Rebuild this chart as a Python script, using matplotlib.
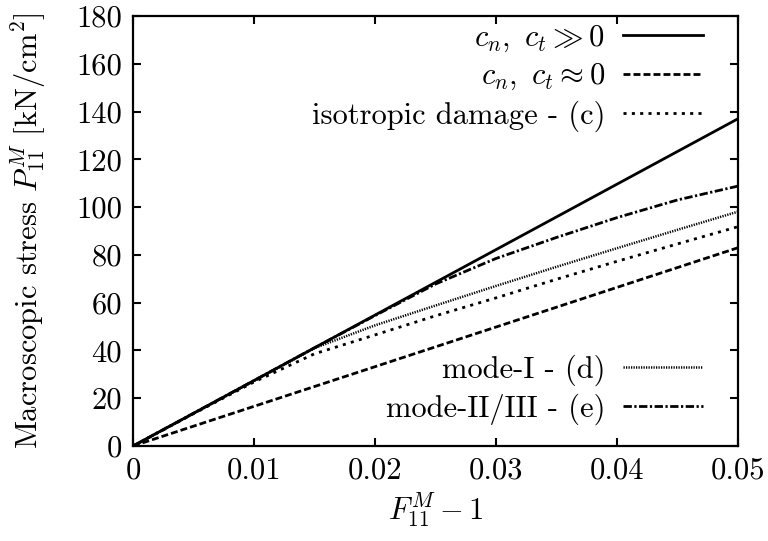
import matplotlib
matplotlib.use("Agg")
import matplotlib.pyplot as plt

plt.rcParams['font.family'] = ['cmr10', 'DejaVu Serif']
plt.rcParams['mathtext.fontset'] = 'cm'
plt.rcParams['axes.formatter.use_mathtext'] = True
plt.rcParams['axes.unicode_minus'] = False

# ---- data ----
strain = [0.0, 0.005, 0.01, 0.015, 0.02, 0.025, 0.03, 0.035, 0.04, 0.045, 0.05]
stress_stiff = [0.0, 13.7, 27.4, 41.1, 54.8, 68.5, 82.2, 95.9, 109.6, 123.3, 137.0]
stress_soft = [0.0, 8.3, 16.6, 24.9, 33.2, 41.5, 49.8, 58.1, 66.4, 74.7, 83.0]
stress_iso = [0.0, 13.5, 26.8, 38.6, 46.5, 54.5, 62.0, 69.8, 77.3, 84.6, 91.8]
stress_mode1 = [0.0, 13.6, 27.2, 41.0, 50.5, 58.8, 67.0, 75.0, 82.8, 90.5, 98.1]
stress_mode23 = [0.0, 13.7, 27.4, 41.1, 54.6, 67.8, 78.5, 87.3, 95.6, 103.0, 108.8]

labels = [r"$c_n,\ c_t \gg 0$", r"$c_n,\ c_t \approx 0$", "isotropic damage - (c)",
          "mode-I - (d)", "mode-II/III - (e)"]

xticks = [0, 0.01, 0.02, 0.03, 0.04, 0.05]
xticklabels = ["0", "0.01", "0.02", "0.03", "0.04", "0.05"]
yticks = [0, 20, 40, 60, 80, 100, 120, 140, 160, 180]
yticklabels = ["0", "20", "40", "60", "80", "100", "120", "140", "160", "180"]

fig = plt.figure(figsize=(7.68, 5.41), dpi=100)
ax = fig.add_axes([133/768, 95/541, 605/768, 430/541])

FS = 22
l1, = ax.plot(strain, stress_stiff, color='black', lw=2.0, ls='-')
l2, = ax.plot(strain, stress_soft, color='black', lw=2.0, ls=(0, (2.5, 1.1)))
l3, = ax.plot(strain, stress_iso, color='black', lw=2.0, ls=(0, (1.1, 1.9)))
l4, = ax.plot(strain, stress_mode1, color='black', lw=1.8, ls=(0, (0.5, 0.5)))
l5, = ax.plot(strain, stress_mode23, color='black', lw=2.0, ls=(0, (3.0, 0.9, 0.8, 0.9)))

ax.set_xlim(0, 0.05)
ax.set_ylim(0, 180)
ax.set_xticks(xticks)
ax.set_xticklabels(xticklabels)
ax.set_yticks(yticks)
ax.set_yticklabels(yticklabels)
ax.tick_params(direction='in', top=True, right=True, length=6, width=1.5,
               labelsize=FS, pad=8)
for s in ax.spines.values():
    s.set_linewidth(1.6)

ax.set_xlabel(r"$F_{11}^M - 1$", fontsize=FS, labelpad=4)
ax.set_ylabel(r"Macroscopic stress $P_{11}^M$ [kN/cm$^2$]", fontsize=FS, labelpad=20)

leg_kw = dict(frameon=False, markerfirst=False, fontsize=FS, handlelength=2.6,
              handletextpad=0.6, labelspacing=0.25, borderaxespad=0.0)
leg1 = ax.legend([l1, l2, l3], labels[:3], loc='upper right',
                 bbox_to_anchor=(0.962, 1.01), **leg_kw)
ax.add_artist(leg1)
ax.legend([l4, l5], labels[3:], loc='lower right',
          bbox_to_anchor=(0.962, 0.02), **leg_kw)

fig.savefig("out.png", dpi=100)
